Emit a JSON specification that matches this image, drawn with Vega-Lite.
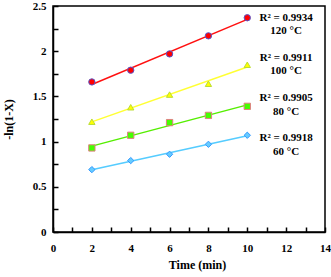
{
  "$schema": "https://vega.github.io/schema/vega-lite/v6.json",
  "width": 272,
  "height": 226,
  "autosize": {"type": "none"},
  "padding": {"left": 53, "top": 6, "right": 6, "bottom": 45},
  "config": {
    "view": {"stroke": "#000", "strokeWidth": 1.5},
    "font": "Liberation Serif"
  },
  "datasets": {
    "pts": [
      {"series": "120", "time": 2, "v": 1.66},
      {"series": "120", "time": 4, "v": 1.79},
      {"series": "120", "time": 6, "v": 1.97},
      {"series": "120", "time": 8, "v": 2.17},
      {"series": "120", "time": 10, "v": 2.37},
      {"series": "100", "time": 2, "v": 1.22},
      {"series": "100", "time": 4, "v": 1.38},
      {"series": "100", "time": 6, "v": 1.52},
      {"series": "100", "time": 8, "v": 1.64},
      {"series": "100", "time": 10, "v": 1.85},
      {"series": "80", "time": 2, "v": 0.93},
      {"series": "80", "time": 4, "v": 1.07},
      {"series": "80", "time": 6, "v": 1.21},
      {"series": "80", "time": 8, "v": 1.29},
      {"series": "80", "time": 10, "v": 1.39},
      {"series": "60", "time": 2, "v": 0.69},
      {"series": "60", "time": 4, "v": 0.79},
      {"series": "60", "time": 6, "v": 0.86},
      {"series": "60", "time": 8, "v": 0.97},
      {"series": "60", "time": 10, "v": 1.07}
    ],
    "labels": [
      {"tx": 12, "ty": 2.37, "text": "R² = 0.9934"},
      {"tx": 12, "ty": 2.22, "text": "120 °C"},
      {"tx": 12, "ty": 1.93, "text": "R² = 0.9911"},
      {"tx": 12, "ty": 1.78, "text": "100 °C"},
      {"tx": 12, "ty": 1.48, "text": "R² = 0.9905"},
      {"tx": 12, "ty": 1.33, "text": "80 °C"},
      {"tx": 12, "ty": 1.04, "text": "R² = 0.9918"},
      {"tx": 12, "ty": 0.88, "text": "60 °C"}
    ]
  },
  "encoding": {
    "x": {"type": "quantitative", "scale": {"domain": [0, 14], "nice": false},
          "axis": {"title": "Time (min)", "values": [0,1,2,3,4,5,6,7,8,9,10,11,12,13,14],
                   "labelExpr": "datum.value % 2 === 0 ? '' + datum.value : ''",
                   "grid": false, "domainColor": "#000", "domainWidth": 1.5,
                   "ticks": true, "tickColor": "#000", "tickWidth": 1.5, "tickSize": -5,
                   "labelOverlap": false, "labelFlush": false, "labelBound": false, "labelSeparation": 0,
                   "labelFont": "Liberation Serif", "labelFontWeight": "bold", "labelFontSize": 11, "labelColor": "#000",
                   "labelPadding": 15,
                   "titleFont": "Liberation Serif", "titleFontWeight": "bold", "titleFontSize": 12, "titleColor": "#000",
                   "titlePadding": 6, "titleX": 144, "zindex": 1}},
    "y": {"type": "quantitative", "scale": {"domain": [0, 2.5], "nice": false},
          "axis": {"title": "-ln(1-X)", "values": [0,0.25,0.5,0.75,1,1.25,1.5,1.75,2,2.25,2.5],
                   "labelExpr": "datum.value % 0.5 === 0 ? format(datum.value, '~g') : ''",
                   "grid": false, "domainColor": "#000", "domainWidth": 1.5,
                   "ticks": true, "tickColor": "#000", "tickWidth": 1.5, "tickSize": -5,
                   "labelOverlap": false, "labelFlush": false, "labelBound": false,
                   "labelFont": "Liberation Serif", "labelFontWeight": "bold", "labelFontSize": 11, "labelColor": "#000",
                   "labelPadding": 12,
                   "titleFont": "Liberation Serif", "titleFontWeight": "bold", "titleFontSize": 12, "titleColor": "#000",
                   "titlePadding": 17, "zindex": 1}}
  },
  "layer": [
    {
      "data": {"name": "pts"},
      "transform": [{"regression": "v", "on": "time", "groupby": ["series"]}],
      "mark": {"type": "line", "strokeWidth": 1.5},
      "encoding": {
        "x": {"field": "time", "type": "quantitative"},
        "y": {"field": "v", "type": "quantitative"},
        "color": {"field": "series", "type": "nominal", "legend": null,
                  "scale": {"domain": ["120", "100", "80", "60"], "range": ["#FF1010", "#FFFF33", "#55EE00", "#55CCFF"]}}
      }
    },
    {
      "data": {"name": "pts"},
      "mark": {"type": "point", "filled": true, "size": 40, "opacity": 1, "strokeWidth": 1},
      "encoding": {
        "x": {"field": "time", "type": "quantitative"},
        "y": {"field": "v", "type": "quantitative"},
        "shape": {"field": "series", "type": "nominal", "legend": null,
                  "scale": {"domain": ["120", "100", "80", "60"], "range": ["circle", "triangle-up", "square", "diamond"]}},
        "fill": {"field": "series", "type": "nominal", "legend": null,
                 "scale": {"domain": ["120", "100", "80", "60"], "range": ["#FF0000", "#FFFF00", "#44FF00", "#66CCFF"]}},
        "stroke": {"field": "series", "type": "nominal", "legend": null,
                   "scale": {"domain": ["120", "100", "80", "60"], "range": ["#5555CC", "#BBDD33", "#E08080", "#3399FF"]}}
      }
    },
    {
      "data": {"name": "labels"},
      "mark": {"type": "text", "font": "Liberation Serif", "fontWeight": "bold", "fontSize": 11, "align": "center", "baseline": "middle", "color": "#000"},
      "encoding": {
        "x": {"field": "tx", "type": "quantitative"},
        "y": {"field": "ty", "type": "quantitative"},
        "text": {"field": "text", "type": "nominal"}
      }
    }
  ]
}
